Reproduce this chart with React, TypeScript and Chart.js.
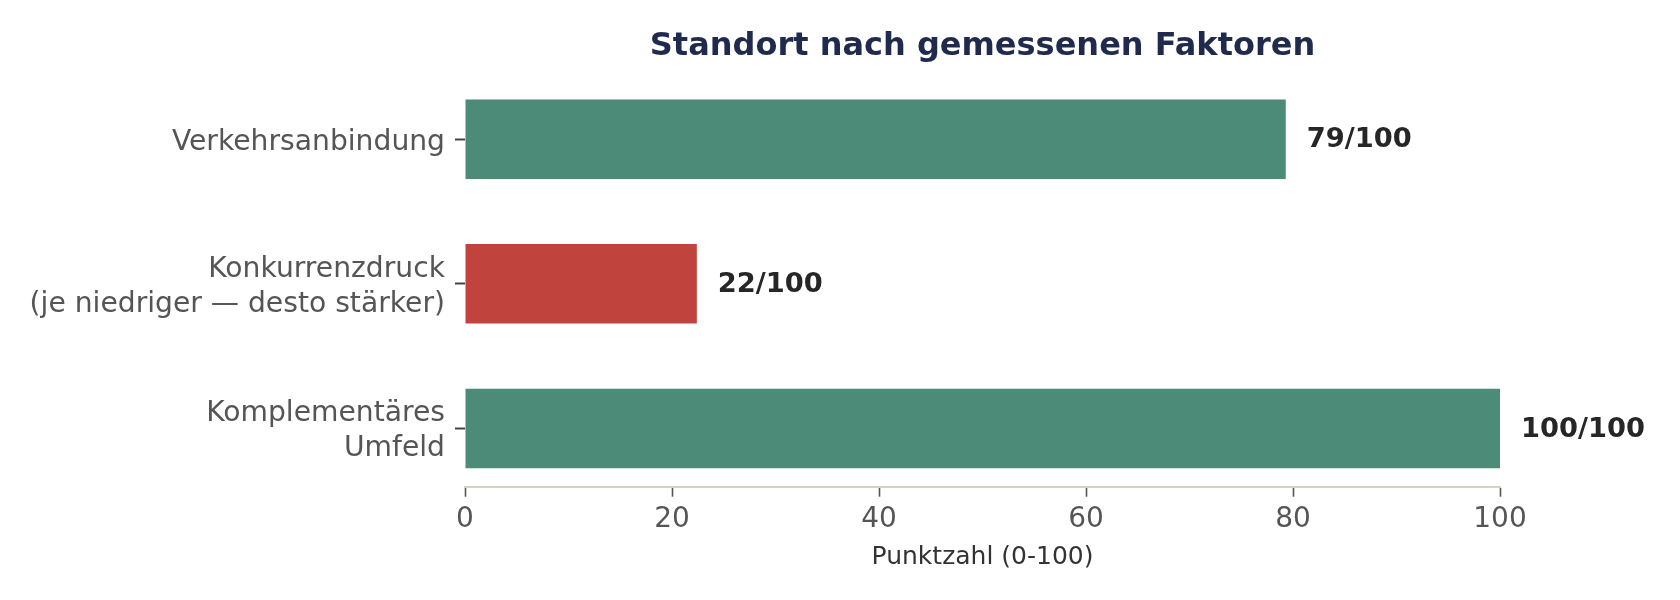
import React, { useRef, useEffect } from "react";
import Chart from "chart.js/auto";

const categories: (string | string[])[] = [
  "Verkehrsanbindung",
  ["Konkurrenzdruck", "(je niedriger — desto stärker)"],
  ["Komplementäres", "Umfeld"],
];
const scores = [79.3, 22.4, 100];
const barColors = ["#4d8b79", "#c0443d", "#4d8b79"];
const xTicks = [0, 20, 40, 60, 80, 100];
const chartTitle = "Standort nach gemessenen Faktoren";
const xTitle = "Punktzahl (0-100)";

const FONT = "'DejaVu Sans', sans-serif";

const App = () => {
  const chartRef = useRef<HTMLCanvasElement | null>(null);
  const chartInstanceRef = useRef<Chart | null>(null);

  useEffect(() => {
    document.body.style.margin = "0";
    const ctx = chartRef.current?.getContext("2d");

    if (chartInstanceRef.current) {
      chartInstanceRef.current.destroy();
    }

    // value labels next to the bars + title centred over the plot area
    const annotate = {
      id: "annotate",
      afterDatasetsDraw(chart: any) {
        const c = chart.ctx;
        const meta = chart.getDatasetMeta(0);
        c.save();
        c.font = `bold 27.3px ${FONT}`;
        c.fillStyle = "#262626";
        c.textAlign = "left";
        c.textBaseline = "middle";
        meta.data.forEach((bar: any, i: number) => {
          c.fillText(`${Math.round(scores[i])}/100`, bar.x + 21, bar.y + 1);
        });
        const area = chart.chartArea;
        c.font = `bold 32px ${FONT}`;
        c.fillStyle = "#1f2a4d";
        c.textAlign = "center";
        c.fillText(chartTitle, (area.left + area.right) / 2, 47);
        c.restore();
      },
    };

    if (ctx) {
      chartInstanceRef.current = new Chart(ctx, {
        type: "bar",
        data: {
          datasets: [
            {
              data: scores.map((v, i) => ({ x: v, y: i })),
              backgroundColor: barColors,
              borderWidth: 0,
              barPercentage: 0.55,
              categoryPercentage: 1,
            },
          ],
        },
        options: {
          indexAxis: "y",
          animation: false,
          responsive: false,
          maintainAspectRatio: false,
          layout: { padding: { top: 81, right: 180, left: 0, bottom: 0 } },
          plugins: {
            legend: { display: false },
            title: { display: false },
            tooltip: { enabled: false },
          },
          scales: {
            x: {
              type: "linear",
              min: 0,
              max: 100,
              afterBuildTicks: (scale: any) => {
                scale.ticks = xTicks.map((v) => ({ value: v }));
              },
              afterFit: (scale: any) => {
                scale.height = 113.3;
              },
              border: { display: true, color: "#d6d2c4", width: 2 },
              grid: {
                drawOnChartArea: false,
                drawTicks: true,
                tickLength: 10,
                tickColor: "#555555",
                tickWidth: 1.6,
              },
              ticks: {
                color: "#555555",
                font: { family: FONT, size: 28 },
                padding: 6,
                maxRotation: 0,
              },
              title: {
                display: true,
                text: xTitle,
                color: "#333333",
                font: { family: FONT, size: 25 },
                padding: { top: 0, bottom: 28 },
              },
            },
            y: {
              type: "linear",
              min: -0.4025,
              max: 2.4025,
              reverse: true,
              offset: false,
              afterBuildTicks: (scale: any) => {
                scale.ticks = categories.map((_, i) => ({ value: i }));
              },
              afterFit: (scale: any) => {
                scale.width = 465;
              },
              border: { display: false },
              grid: {
                offset: false,
                drawOnChartArea: false,
                drawTicks: true,
                tickLength: 10,
                tickColor: "#444444",
                tickWidth: 2,
              },
              ticks: {
                color: "#555555",
                font: { family: FONT, size: 28.2, lineHeight: 1.25 },
                padding: 10,
                labelOffset: 3,
                callback: (value: any) => categories[Math.round(Number(value))],
              },
            },
          },
        },
        plugins: [annotate],
      });
    }

    return () => {
      if (chartInstanceRef.current) {
        chartInstanceRef.current.destroy();
        chartInstanceRef.current = null;
      }
    };
  }, []);

  return (
    <div style={{ width: 1680, height: 600, background: "#ffffff" }}>
      <canvas ref={chartRef} width={1680} height={600}></canvas>
    </div>
  );
};

export default App;
